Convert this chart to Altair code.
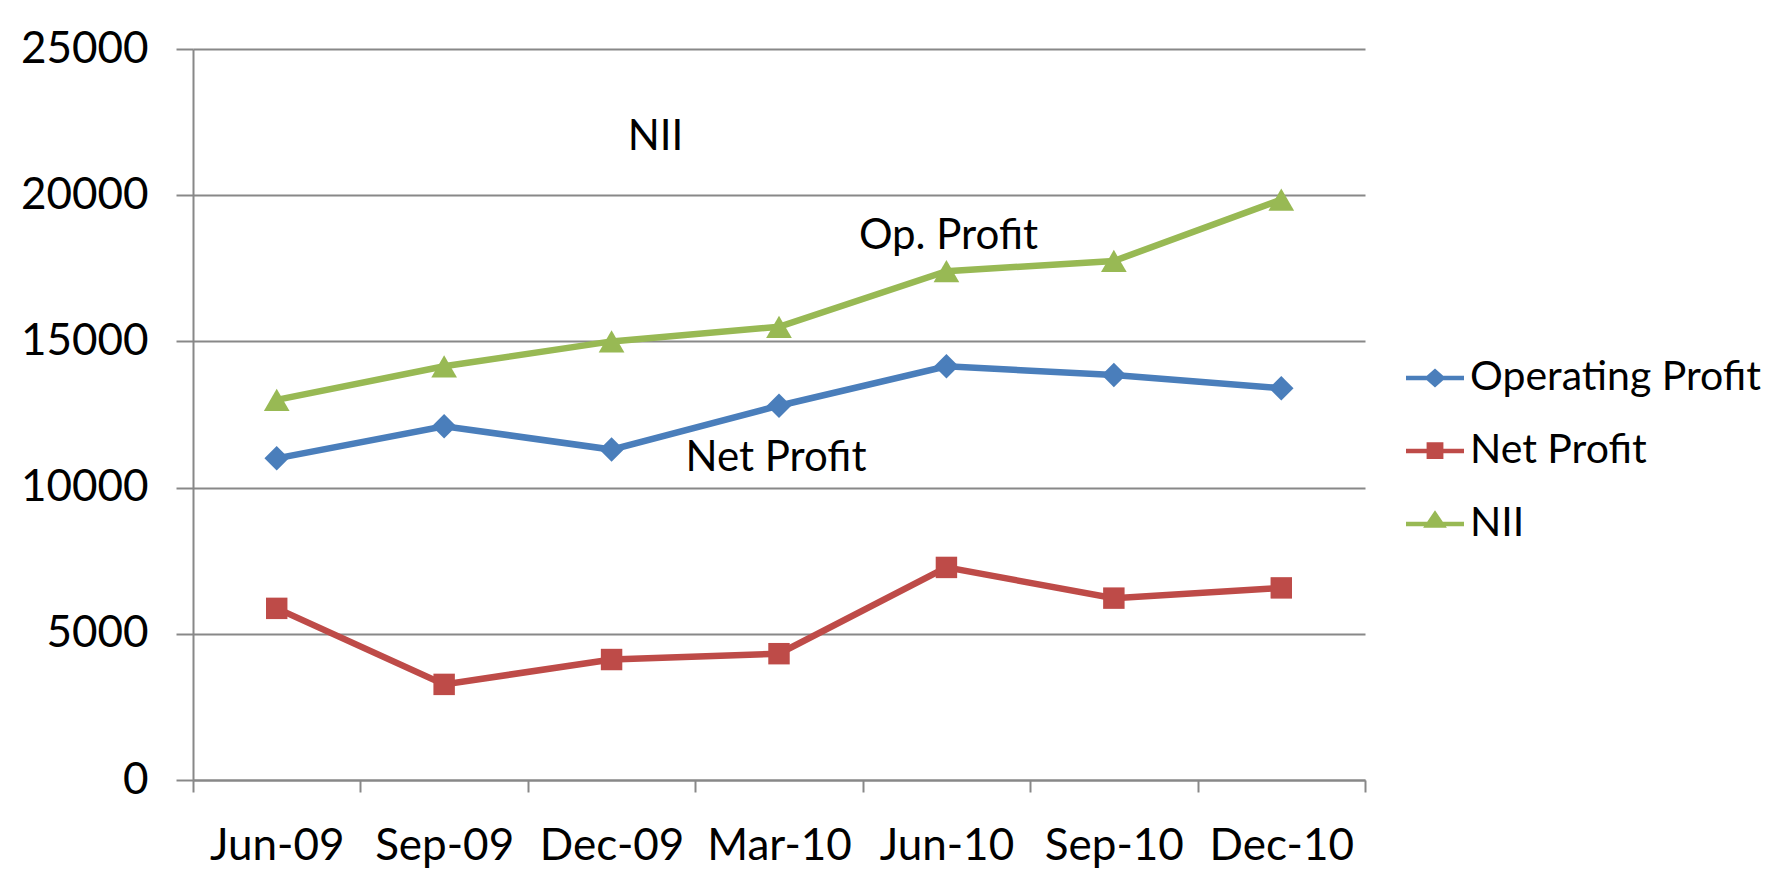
import altair as alt
import pandas as pd

periods = ["Jun-09", "Sep-09", "Dec-09", "Mar-10", "Jun-10", "Sep-10", "Dec-10"]
operating_profit = [11000, 12100, 11300, 12800, 14150, 13850, 13400]
net_profit = [5870, 3270, 4120, 4320, 7270, 6220, 6570]
nii = [13000, 14150, 15000, 15500, 17400, 17750, 19850]

series = ["Operating Profit", "Net Profit", "NII"]
colors = ["#4A7EBB", "#BE4B48", "#98B954"]
marker_shapes = ["diamond", "square", "triangle-up"]
marker_sizes = [600, 460, 660]
legend_shapes = [
    "M-1,-0.075H1V0.075H-1Z M-0.37,0L0,-0.33L0.37,0L0,0.33Z",
    "M-1,-0.075H1V0.075H-1Z M-0.29,-0.3H0.29V0.28H-0.29Z",
    "M-1,-0.075H1V0.075H-1Z M-0.41,0.13L0,-0.47L0.41,0.13Z",
]
y_ticks = [0, 5000, 10000, 15000, 20000, 25000]

ann_text = ["NII", "Op. Profit", "Net Profit"]
ann_period = ["Dec-09", "Jun-10", "Mar-10"]
ann_value = [22000, 18600, 11000]

rows = []
for s, vals in zip(series, [operating_profit, net_profit, nii]):
    for p, v in zip(periods, vals):
        rows.append({"series": s, "period": p, "value": v})
df = pd.DataFrame(rows)

FONT = "Lato"

x_enc = alt.X(
    "period:N",
    sort=periods,
    scale=alt.Scale(domain=periods, paddingInner=0, paddingOuter=0),
    axis=alt.Axis(
        title=None, labelAngle=0, labelFont=FONT, labelFontSize=44, labelColor="black",
        tickBand="extent", ticks=True, tickSize=12, tickColor="#888888", tickWidth=2,
        domainColor="#888888", domainWidth=2, grid=False, labelPadding=32,
    ),
)
y_enc = alt.Y(
    "value:Q",
    scale=alt.Scale(domain=[0, 25000], nice=False),
    axis=alt.Axis(
        title=None, values=y_ticks, format="d", labelFont=FONT, labelFontSize=44,
        labelColor="black", tickSize=17, tickColor="#888888", tickWidth=2,
        domainColor="#888888", domainWidth=2,
        grid=True, gridColor="#888888", gridWidth=2, labelPadding=28,
    ),
)
color_scale = alt.Scale(domain=series, range=colors)

lines = alt.Chart(df).mark_line(strokeWidth=6.5).encode(
    x=x_enc, y=y_enc,
    color=alt.Color("series:N", scale=color_scale, legend=None),
)

point_layers = []
for s, shp, sz in zip(series, marker_shapes, marker_sizes):
    point_layers.append(
        alt.Chart(df).transform_filter(alt.datum.series == s)
        .mark_point(filled=True, opacity=1, shape=shp, size=sz)
        .encode(x=x_enc, y=y_enc,
                color=alt.Color("series:N", scale=color_scale, legend=None))
    )

legend_layer = alt.Chart(df).transform_filter("false").mark_point(filled=True, opacity=1).encode(
    x=x_enc, y=y_enc,
    fill=alt.Fill("series:N", scale=alt.Scale(domain=series, range=colors),
                  legend=alt.Legend(title=None)),
    shape=alt.Shape("series:N", scale=alt.Scale(domain=series, range=legend_shapes),
                    legend=alt.Legend(title=None)),
)

ann = pd.DataFrame({"text": ann_text, "period": ann_period, "value": ann_value})
dxs = [44, 2, -3]
texts = []
for t, dx in zip(ann_text, dxs):
    texts.append(
        alt.Chart(ann).transform_filter(alt.datum.text == t)
        .mark_text(font=FONT, fontSize=42, color="black", align="center", baseline="middle", dx=dx)
        .encode(x=x_enc, y=y_enc, text="text:N")
    )

chart = (
    alt.layer(lines, *point_layers, legend_layer, *texts)
    .resolve_scale(fill="independent", shape="independent")
    .properties(
        width=1172, height=731,
        autosize=alt.AutoSizeParams(type="none"),
        padding={"left": 185, "top": 41, "right": 400, "bottom": 90},
        background="white",
    )
    .configure_view(stroke=None)
    .configure_legend(
        orient="none", legendX=1213, legendY=300, direction="vertical",
        symbolSize=3364, symbolStrokeWidth=0, labelFont=FONT, labelFontSize=41,
        labelColor="black", rowPadding=24, labelOffset=6, labelLimit=400,
    )
)

chart.save("out.html", embed_options={"renderer": "svg", "actions": False})
